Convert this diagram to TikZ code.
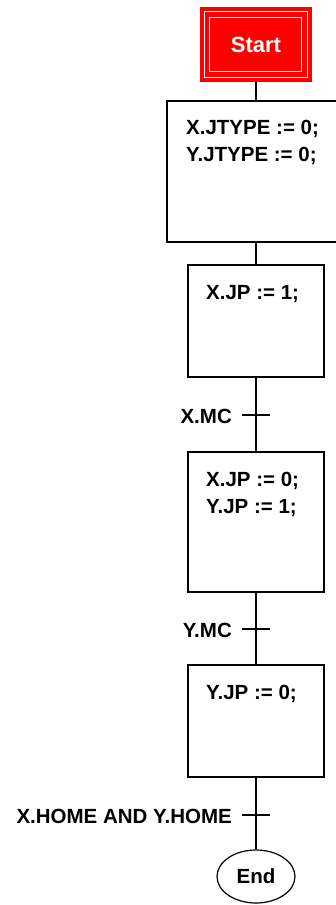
\documentclass[tikz,border=0pt]{standalone}
\usepackage{fontspec}
\setmainfont{Liberation Sans}
\usetikzlibrary{shapes.geometric}
\definecolor{startred}{RGB}{255,0,0}
\begin{document}
\begin{tikzpicture}[x=1pt,y=-1pt,
  stepbox/.style={draw=black, line width=1.8pt, rectangle, inner sep=0pt},
  code/.style={font=\bfseries\fontsize{20.5}{27}\selectfont, align=left, inner sep=0pt, anchor=north west},
  cond/.style={font=\bfseries\fontsize{20.5}{27}\selectfont, inner sep=0pt, anchor=base east},
  link/.style={line width=1.8pt},
  tickmark/.style={line width=1.8pt}]
\useasboundingbox (0,0) rectangle (336,905);
% start
\node[fill=startred, inner sep=0pt, minimum width=112pt, minimum height=75pt] (st) at (256,44.5) {};
\draw[white, line width=1.2pt] ([shift={(4.5,5)}]st.north west) rectangle ([shift={(-4.5,-5)}]st.south east);
\draw[white, line width=1.2pt] ([shift={(10,11)}]st.north west) rectangle ([shift={(-10.5,-10.5)}]st.south east);
\node[text=white, font=\bfseries\fontsize{22}{26}\selectfont, inner sep=0pt] (stt) at (st.center) {Start};
% steps
\node[stepbox, minimum width=178pt, minimum height=141pt] (s1) at (256,171.5) {};
\node[code] (t1) at (186,120.3) {X.JTYPE := 0;\\Y.JTYPE := 0;};
\node[stepbox, minimum width=136pt, minimum height=112pt] (s2) at (256,321) {};
\node[code] (t2) at (206,285.3) {X.JP := 1;};
\node[stepbox, minimum width=136pt, minimum height=140pt] (s3) at (256,522) {};
\node[code] (t3) at (206,472.3) {X.JP := 0;\\Y.JP := 1;};
\node[stepbox, minimum width=136pt, minimum height=112pt] (s4) at (256,721) {};
\node[code] (t4) at (206,685.3) {Y.JP := 0;};
\node[ellipse, draw=black, line width=1.2pt, minimum width=78pt, minimum height=53pt, inner sep=0pt,
  font=\bfseries\fontsize{20.5}{24}\selectfont] (en) at (256,876.5) {End};
% transitions
\coordinate (c1) at (256,415);
\coordinate (c2) at (256,629);
\coordinate (c3) at (256,815);
\node[cond] (l1) at (232,423) {X.MC};
\node[cond] (l2) at (232,637) {Y.MC};
\node[cond] (l3) at (232,823) {X.HOME AND Y.HOME};
% connectors
\draw[link] (st.south) -- (s1.north);
\draw[link] (s1.south) -- (s2.north);
\draw[link] (s2.south) -- (c1) -- (s3.north);
\draw[link] (s3.south) -- (c2) -- (s4.north);
\draw[link] (s4.south) -- (c3) -- (en.north);
\draw[tickmark] ([xshift=-14pt]c1) -- ([xshift=14pt]c1);
\draw[tickmark] ([xshift=-14pt]c2) -- ([xshift=14pt]c2);
\draw[tickmark] ([xshift=-14pt]c3) -- ([xshift=14pt]c3);
\end{tikzpicture}
\end{document}
